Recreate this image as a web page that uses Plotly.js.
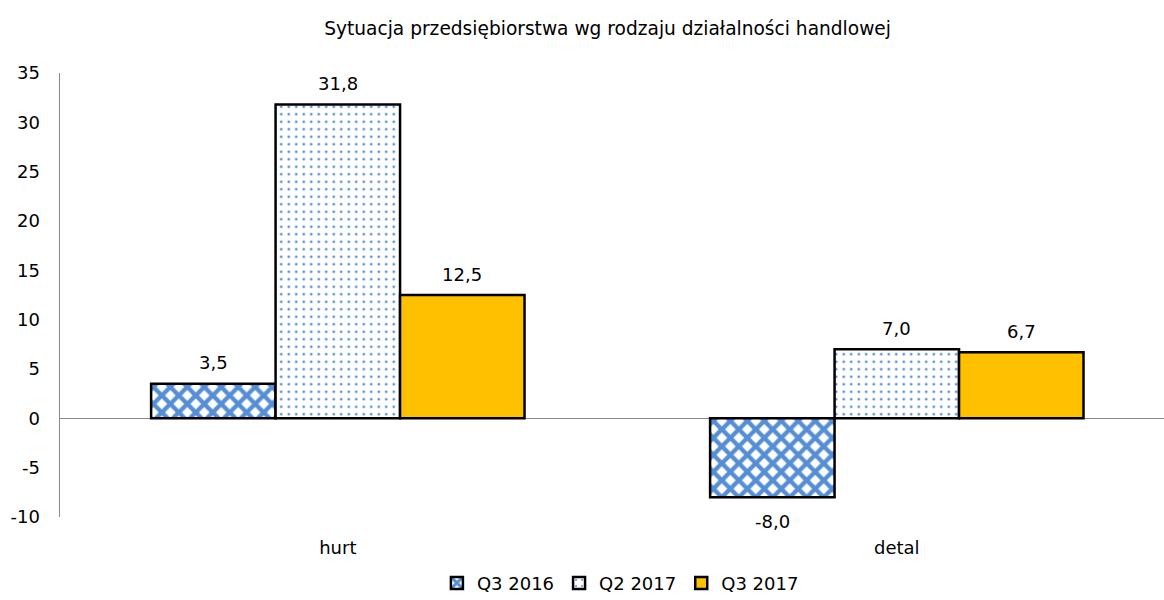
<!DOCTYPE html>
<html>
<head>
<meta charset="utf-8">
<script src="https://cdn.plot.ly/plotly-3.0.1.min.js"></script>
<style>html,body{margin:0;padding:0;background:#fff;}</style>
</head>
<body>
<div id="chart" style="width:1164px;height:600px;"></div>
<script>
const categories = ["hurt", "detal"];
const seriesNames = ["Q3 2016", "Q2 2017", "Q3 2017"];
const q3_2016 = [3.5, -8.0];
const q2_2017 = [31.8, 7.0];
const q3_2017 = [12.5, 6.7];
const yTicks = [-10, -5, 0, 5, 10, 15, 20, 25, 30, 35];

const FONT = "DejaVu Sans, Verdana, sans-serif";
const FS = 18;
const fmt = v => v.toFixed(1).replace('.', ',');
const BARGAP = 0.332;
const seriesVals = [q3_2016, q2_2017, q3_2017];

function bar(name, vals, marker) {
  return {
    type: 'bar', name: name, x: categories, y: vals,
    marker: marker, hoverinfo: 'skip'
  };
}

const data = [
  bar(seriesNames[0], q3_2016, {
    color: '#ffffff',
    line: {color: '#000', width: 2.5},
    pattern: {shape: 'x', fgcolor: '#558ED5', bgcolor: '#ffffff', fgopacity: 1, size: 12, solidity: 0.6, fillmode: 'replace'}
  }),
  bar(seriesNames[1], q2_2017, {
    color: '#ffffff',
    line: {color: '#000', width: 2.5},
    pattern: {shape: '.', fgcolor: '#5B8FD8', bgcolor: '#ffffff', fgopacity: 1, size: 7.5, solidity: 0.11, fillmode: 'replace'}
  }),
  bar(seriesNames[2], q3_2017, {
    color: '#FFC000',
    line: {color: '#000', width: 2.5}
  })
];

// value labels placed at each bar's end, computed from the data arrays
const w = (1 - BARGAP) / 3;
const annotations = [];
seriesVals.forEach((vals, j) => {
  vals.forEach((v, i) => {
    annotations.push({
      xref: 'x', yref: 'y', x: i + (j - 1) * w, y: v,
      text: fmt(v), showarrow: false, xanchor: 'center', yanchor: 'middle',
      yshift: v >= 0 ? 21 : -24,
      font: {family: FONT, size: FS, color: '#000'}
    });
  });
});

const layout = {
  width: 1164, height: 600,
  margin: {l: 60, r: 0, t: 73, b: 83},
  paper_bgcolor: '#fff', plot_bgcolor: '#fff',
  font: {family: FONT, size: FS, color: '#000'},
  title: {text: 'Sytuacja przedsiębiorstwa wg rodzaju działalności handlowej',
          font: {family: FONT, size: 18.6, color: '#000'}, x: 0.522, xanchor: 'center', xref: 'container',
          y: 0.953, yanchor: 'middle', yref: 'container'},
  barmode: 'group', bargap: BARGAP, bargroupgap: 0,
  showlegend: true,
  legend: {orientation: 'h', x: 0.533, xanchor: 'center', xref: 'container',
           y: 0.028, yanchor: 'middle', yref: 'container',
           font: {family: FONT, size: FS, color: '#000'}, traceorder: 'normal', itemwidth: 30},
  annotations: annotations,
  xaxis: {type: 'category', range: [-0.497, 1.478], showline: false, showgrid: false,
          zeroline: false, ticks: '', tickfont: {family: FONT, size: FS}, ticklabelstandoff: 18,
          fixedrange: true, automargin: false},
  yaxis: {range: [-10, 35], tickvals: yTicks, ticktext: yTicks.map(String),
          showline: true, linecolor: '#888', linewidth: 1.5, showgrid: false,
          zeroline: true, zerolinecolor: '#888', zerolinewidth: 1.5,
          ticks: '', ticklen: 0, tickfont: {family: FONT, size: FS}, ticklabelstandoff: 15,
          fixedrange: true, automargin: false}
};

Plotly.newPlot('chart', data, layout, {displayModeBar: false, staticPlot: true});
</script>
</body>
</html>
